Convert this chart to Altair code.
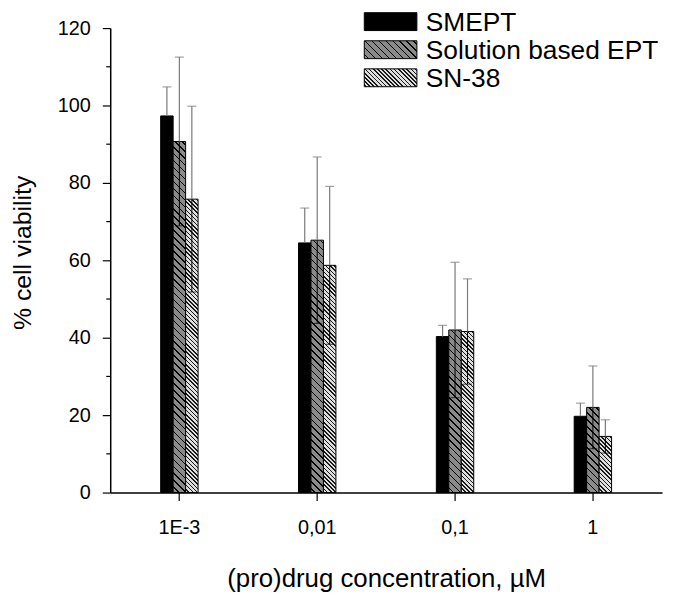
import math
import altair as alt
import pandas as pd

# ---------------- data ----------------
conc = ["1E-3", "0,01", "0,1", "1"]
series = ["SMEPT", "Solution based EPT", "SN-38"]
smept = [97.3, 64.5, 40.3, 19.7]
smept_err = [7.5, 9.0, 2.9, 3.4]
sol = [90.7, 65.2, 42.0, 22.0]
sol_err = [21.8, 21.5, 17.5, 10.7]
sn38 = [75.8, 58.7, 41.6, 14.5]
sn38_err = [24.0, 20.4, 13.6, 4.3]
y_major = [0, 20, 40, 60, 80, 100, 120]
y_minor = [10, 30, 50, 70, 90, 110]

# ---------------- layout / style ----------------
W, H = 556, 468
PI, PO = 0.7286, 0.366
FONT = "Liberation Sans"
step = W / (len(conc) - PI + 2 * PO)
bar_w = step * (1 - PI) / 3
ppu = H / 120.0

styles = {
    "SMEPT": dict(bg="#000000", fg=None, d=None),
    "Solution based EPT": dict(bg="#8a8a8a", fg="#000000", d=7.0),
    "SN-38": dict(bg="#dedede", fg="#1a1a1a", d=4.2),
}


def hatch(w, h, st, lw=1.1):
    """Diagonal '\\' hatching as a hard-stop linear gradient for a w x h box."""
    if st["fg"] is None:
        return st["bg"]
    bg, fg, d = st["bg"], st["fg"], st["d"]
    total = w + h
    s = total / (w * w + h * h)
    lu = lw * math.sqrt(2)
    stops = [{"offset": 0, "color": bg}]
    u = -w + d / 2
    last = 0.0
    while u < h:
        ta = max(last, (u - lu / 2 + w) / total)
        tb = min(1.0, (u + lu / 2 + w) / total)
        if tb > ta:
            stops += [
                {"offset": ta, "color": bg},
                {"offset": ta, "color": fg},
                {"offset": tb, "color": fg},
                {"offset": tb, "color": bg},
            ]
            last = tb
        u += d
    stops.append({"offset": 1, "color": bg})
    return {"gradient": "linear", "x1": 1, "y1": 0,
            "x2": 1 - w * s, "y2": h * s, "stops": stops}


rows = []
for i, c in enumerate(conc):
    for name, vals, errs in [("SMEPT", smept, smept_err),
                             ("Solution based EPT", sol, sol_err),
                             ("SN-38", sn38, sn38_err)]:
        v, e = vals[i], errs[i]
        rows.append(dict(conc=c, series=name, value=v, lo=v - e, hi=v + e,
                         grad=hatch(bar_w, v * ppu, styles[name])))
df = pd.DataFrame(rows)

x_enc = alt.X("conc:N", sort=conc,
              scale=alt.Scale(paddingInner=PI, paddingOuter=PO),
              axis=alt.Axis(title="(pro)drug concentration, µM", labelAngle=0,
                            tickSize=8, labelPadding=17, labelFontSize=20,
                            titleFontSize=26, titleFontWeight="normal",
                            titlePadding=29, domainColor="black",
                            domainWidth=1.5, tickColor="black", tickWidth=1.2,
                            labelColor="black", titleColor="black"))
xo_enc = alt.XOffset("series:N", sort=series)
y_scale = alt.Scale(domain=[0, 120], nice=False, zero=True)
y_axis = alt.Axis(title="% cell viability", values=y_major, tickSize=8,
                  labelFontSize=20, labelPadding=12, titleFontSize=25,
                  titleFontWeight="normal", titlePadding=22, titleY=226,
                  domainColor="black", domainWidth=1.5,
                  tickColor="black", tickWidth=1.2, grid=False,
                  labelColor="black", titleColor="black")

base = alt.Chart(df)

bars = base.mark_bar(stroke="black", strokeWidth=1).encode(
    x=x_enc, xOffset=xo_enc,
    y=alt.Y("value:Q", scale=y_scale, axis=y_axis),
    fill=alt.Fill("grad:N", scale=None, legend=None),
)

lower = base.mark_rule(color="black", strokeWidth=1).encode(
    x=x_enc, xOffset=xo_enc, y=alt.Y("lo:Q", scale=y_scale, axis=y_axis),
    y2="value:Q")
lower_cap = base.mark_tick(color="black", size=9, thickness=1).encode(
    x=x_enc, xOffset=xo_enc, y=alt.Y("lo:Q", scale=y_scale, axis=y_axis))
upper = base.mark_rule(color="#7a7a7a", strokeWidth=1.2).encode(
    x=x_enc, xOffset=xo_enc, y=alt.Y("value:Q", scale=y_scale, axis=y_axis),
    y2="hi:Q")
upper_cap = base.mark_tick(color="#7a7a7a", size=9, thickness=1.2).encode(
    x=x_enc, xOffset=xo_enc, y=alt.Y("hi:Q", scale=y_scale, axis=y_axis))

minor = alt.Chart(pd.DataFrame({"v": y_minor})).mark_rule(
    color="black", strokeWidth=1.2).encode(
    y=alt.Y("v:Q", scale=y_scale, axis=y_axis),
    x=alt.value(0), x2=alt.value(-4))

# ---------------- legend (drawn as marks) ----------------
LEG_X, LEG_W, LEG_H, LEG_TOP, LEG_ROW, TXT_X = 256, 53, 18, -15.5, 28.3, 318
legend_layers = []
one = pd.DataFrame({"k": [0]})
for k, name in enumerate(series):
    top = LEG_TOP + LEG_ROW * k
    sw = alt.Chart(one).mark_rect(
        fill=hatch(LEG_W, LEG_H, styles[name]), stroke="black", strokeWidth=1
    ).encode(x=alt.value(LEG_X), x2=alt.value(LEG_X + LEG_W),
             y=alt.value(top), y2=alt.value(top + LEG_H))
    tx = alt.Chart(one).mark_text(
        text=name, align="left", baseline="alphabetic", fontSize=26.5,
        font=FONT, color="black"
    ).encode(x=alt.value(TXT_X), y=alt.value(top + LEG_H))
    legend_layers += [sw, tx]

chart = alt.layer(bars, lower, lower_cap, upper, upper_cap, minor,
                  *legend_layers).properties(
    width=W, height=H,
    padding={"left": 103, "top": 18, "right": 4, "bottom": 100},
    autosize=alt.AutoSizeParams(type="none"),
).configure(font=FONT).configure_view(stroke=None).configure_axis(
    labelFont=FONT, titleFont=FONT)

chart.save("out.html", embed_options={"renderer": "svg", "actions": False})
